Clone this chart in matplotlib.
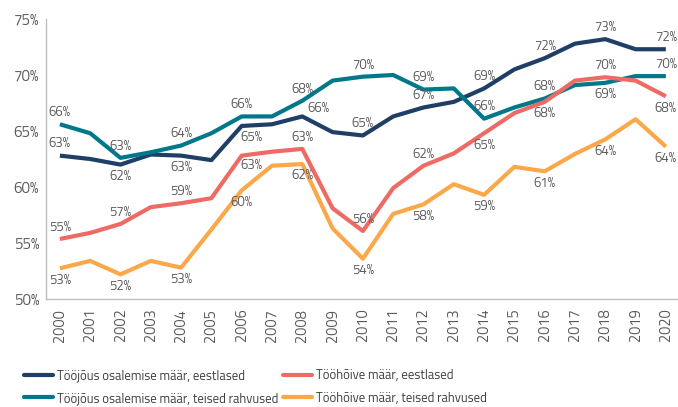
import matplotlib
matplotlib.use("Agg")
import matplotlib.pyplot as plt

plt.rcParams['font.family'] = ['Titillium Web', 'DejaVu Sans']

years = list(range(2000, 2021))
navy_vals = [62.8, 62.5, 62.0, 62.9, 62.8, 62.4, 65.45, 65.6, 66.3, 64.9, 64.6, 66.3, 67.1, 67.6, 68.8, 70.5, 71.5, 72.8, 73.2, 72.3, 72.3]
teal_vals = [65.6, 64.8, 62.6, 63.1, 63.7, 64.8, 66.3, 66.3, 67.7, 69.5, 69.85, 70.0, 68.7, 68.8, 66.1, 67.1, 67.9, 69.1, 69.3, 69.9, 69.9]
salmon_vals = [55.36, 55.9, 56.7, 58.2, 58.55, 59.0, 62.8, 63.15, 63.4, 58.1, 56.07, 59.9, 61.9, 63.0, 64.8, 66.6, 67.6, 69.5, 69.8, 69.5, 68.1]
orange_vals = [52.74, 53.4, 52.2, 53.4, 52.8, 56.2, 59.7, 61.9, 62.05, 56.3, 53.6, 57.6, 58.45, 60.25, 59.3, 61.8, 61.4, 62.95, 64.25, 66.05, 63.6]

series_names = ["Tööjõus osalemise määr, eestlased",
                "Tööjõus osalemise määr, teised rahvused",
                "Tööhõive määr, eestlased",
                "Tööhõive määr, teised rahvused"]
colors = ["#1f3f66", "#00788a", "#ee6b65", "#fba84a"]

# label placement: +1 above, -1 below, for even years
navy_pos = {2000: 1, 2002: -1, 2004: -1, 2006: -1, 2008: 1, 2010: 1, 2012: 1, 2014: 1, 2016: 1, 2018: 1, 2020: 1}
teal_pos = {2000: 1, 2002: 1, 2004: 1, 2006: 1, 2008: 1, 2010: 1, 2012: 1, 2014: 1, 2016: 1, 2018: -1, 2020: 1}
salmon_pos = {2000: 1, 2002: 1, 2004: 1, 2006: -1, 2008: 1, 2010: 1, 2012: 1, 2014: -1, 2016: -1, 2018: 1, 2020: -1}
orange_pos = {y: -1 for y in range(2000, 2021, 2)}
# special label offsets (points) for a few crowded labels
special = {(0, 2008): (11.5, 6.0), (0, 2006): (7.0, -8.5), (2, 2006): (7.0, -7.0)}

fig = plt.figure(figsize=(6.78, 4.07), dpi=100)
ax = fig.add_axes([0.0678, 0.2654, 0.9322, 0.6879])

all_vals = [navy_vals, teal_vals, salmon_vals, orange_vals]
all_pos = [navy_pos, teal_pos, salmon_pos, orange_pos]
for vals, name, c in zip(all_vals, series_names, colors):
    ax.plot(years, vals, color=c, lw=3.0, label=name, solid_capstyle="butt")

for si, (vals, pos) in enumerate(zip(all_vals, all_pos)):
    for y, v in zip(years, vals):
        if y in pos:
            d = pos[y]
            off = special.get((si, y), (0, 8.5 * d))
            ax.annotate(f"{int(v + 0.5)}%", (y, v), xytext=off, textcoords="offset points",
                        ha="center", va="center",
                        fontsize=9.5, color="#595959")

ax.set_xlim(1999.54, 2020.4)
ax.set_ylim(50, 75)
ax.set_yticks([50, 55, 60, 65, 70, 75])
ax.set_yticklabels([f"{t}%" for t in [50, 55, 60, 65, 70, 75]], fontsize=11, color="#595959")
ax.set_xticks(years)
ax.set_xticklabels([str(y) for y in years], rotation=90, fontsize=10.5, color="#595959")
ax.tick_params(axis="x", length=0, pad=7)
ax.tick_params(axis="y", length=0, pad=5)
for s in ["top", "right"]:
    ax.spines[s].set_visible(False)
for s in ["left", "bottom"]:
    ax.spines[s].set_color("#bfbfbf")
    ax.spines[s].set_linewidth(1.0)

lines = ax.get_lines()
leg_kw = dict(frameon=False, fontsize=9.2, handlelength=2.3, handletextpad=0.25,
              labelspacing=0.75, labelcolor="#404040", borderpad=0, borderaxespad=0,
              loc="upper left")
leg1 = fig.legend([lines[0], lines[1]], [series_names[0], series_names[1]],
                  bbox_to_anchor=(24 / 678, 1 - 369 / 407), **leg_kw)
leg2 = fig.legend([lines[2], lines[3]], [series_names[2], series_names[3]],
                  bbox_to_anchor=(283 / 678, 1 - 369 / 407), **leg_kw)
for lg in (leg1, leg2):
    for h in lg.legend_handles:
        h.set_solid_capstyle("round")
plt.savefig("out.png", dpi=100)
